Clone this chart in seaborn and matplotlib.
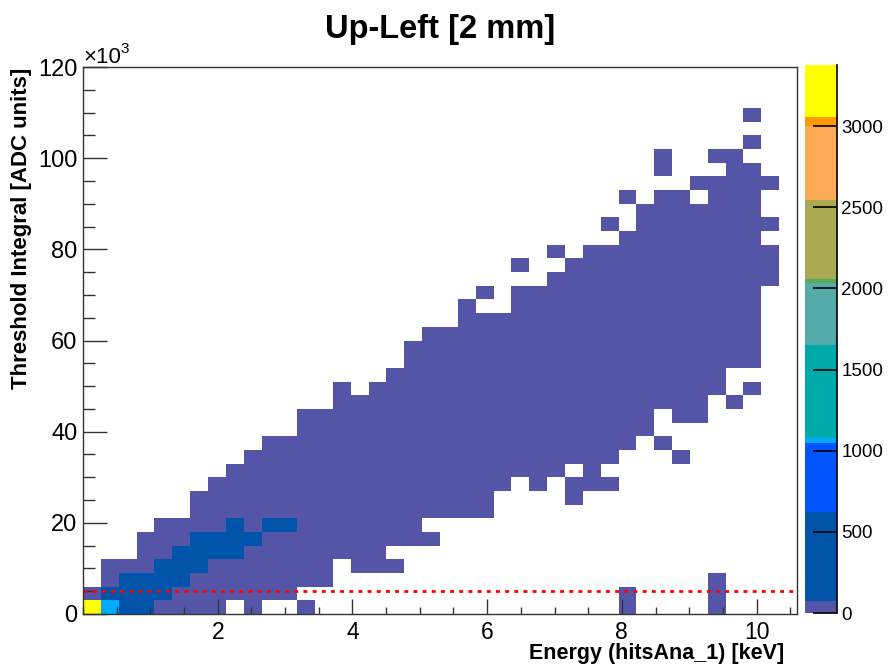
import numpy as np
import pandas as pd
import matplotlib
matplotlib.use('Agg')
import matplotlib.pyplot as plt
from matplotlib.colors import ListedColormap
from matplotlib.ticker import MultipleLocator, FuncFormatter
import seaborn as sns

plt.rcParams['font.family'] = ['Liberation Sans', 'DejaVu Sans']

# binning of the 2D histogram (40 x 40 bins)
x_edges = np.linspace(0, 10.6, 41)
y_edges = np.linspace(0, 120000, 41)

# occupied band per energy column: lowest / highest filled row (-1 = empty column)
band_lo = [0, 0, 0, 0, 0, 0, 0, 0, 1, 0, 1, 1, 2, 2, 4, 3, 3, 3, 5, 5,
           7, 7, 7, 9, 10, 9, 10, 8, 9, 9, 12, 13, 15, 14, 14, 16, 18, 18, -1, -1]
band_hi = [1, 3, 3, 5, 6, 6, 8, 9, 10, 11, 12, 12, 14, 14, 16, 15, 16, 17, 19, 20,
           20, 22, 21, 21, 23, 23, 24, 25, 26, 26, 27, 29, 30, 30, 29, 31, 33, 32, -1, -1]
# empty cells inside the band (column, row)
holes = [(17, 4), (19, 6), (27, 10), (29, 10)]
# isolated filled cells outside the band (column, row)
strays = [(12, 0), (22, 23), (24, 25), (26, 26), (29, 28), (30, 0), (30, 1), (30, 30),
          (32, 12), (32, 32), (32, 33), (33, 11), (34, 31), (35, 0), (35, 1), (35, 2),
          (35, 33), (36, 15), (37, 16), (37, 34), (37, 36),
          (38, 24), (38, 25), (38, 26), (38, 28), (38, 31)]
# denser cells along the low-energy diagonal: row -> columns
dense_rows = {0: [2, 3], 1: [1, 2, 3, 4], 2: [2, 3, 4, 5], 3: [4, 5, 6],
              4: [5, 6, 7, 8], 5: [6, 7, 8, 9], 6: [8, 10, 11]}
hot_cells = {(0, 0): 3376, (1, 0): 1060}
count_low = 30
count_dense = 300

threshold_level = 5000

# ROOT-like stepped palette
band_edges = [0, 76, 620, 1045, 1080, 1650, 2030, 2060, 2545, 3000, 3057, 3376]
band_colors = ['#5555a8', '#0055aa', '#0055ff', '#00aaff', '#00aaaa', '#55aaaa',
               '#55aa55', '#aaaa55', '#ffaa55', '#ff9900', '#ffff00']
cbar_ticks = [0, 500, 1000, 1500, 2000, 2500, 3000]

# build the cell table
cells = {}
for c in range(40):
    if band_lo[c] < 0:
        continue
    for r in range(band_lo[c], band_hi[c] + 1):
        cells[(c, r)] = count_low
for c, r in holes:
    cells.pop((c, r), None)
for c, r in strays:
    cells[(c, r)] = count_low
for r, cols in dense_rows.items():
    for c in cols:
        cells[(c, r)] = count_dense
cells.update(hot_cells)

x_mid = (x_edges[:-1] + x_edges[1:]) / 2
y_mid = (y_edges[:-1] + y_edges[1:]) / 2
df = pd.DataFrame({
    'energy': [x_mid[c] for c, r in cells],
    'integral': [y_mid[r] for c, r in cells],
    'counts': list(cells.values()),
})

levels = np.arange(band_edges[-1]) + 0.5
idx = np.searchsorted(band_edges, levels) - 1
cmap = ListedColormap([band_colors[i] for i in idx])

fig = plt.figure(figsize=(8.93, 6.66), dpi=100)
ax = fig.add_axes([83 / 893, 1 - 614 / 666, 714 / 893, 547 / 666])
cax = fig.add_axes([805 / 893, 1 - 613 / 666, 32 / 893, 548 / 666])

sns.histplot(data=df, x='energy', y='integral', weights='counts',
             bins=[x_edges, y_edges], cmap=cmap, cbar=True, cbar_ax=cax,
             cbar_kws={'ticks': cbar_ticks}, ax=ax)

ax.axhline(threshold_level, color='red', lw=2, ls=(0, (1.4, 1.9)))

ax.set_xlim(x_edges[0], x_edges[-1])
ax.set_ylim(y_edges[0], y_edges[-1])
ax.set_xlabel('')
ax.set_ylabel('')
ax.set_xticks([2, 4, 6, 8, 10])
ax.xaxis.set_minor_locator(MultipleLocator(0.5))
ax.yaxis.set_major_locator(MultipleLocator(20000))
ax.yaxis.set_minor_locator(MultipleLocator(5000))
ax.yaxis.set_major_formatter(FuncFormatter(lambda v, p: f'{v / 1000:.0f}'))
ax.tick_params(which='both', direction='in', color='#333333', width=1)
ax.tick_params(axis='x', which='major', length=10.8, labelsize=16.5, pad=5)
ax.tick_params(axis='x', which='minor', length=5.4)
ax.tick_params(axis='y', which='major', length=17.3, labelsize=17, pad=4)
ax.tick_params(axis='y', which='minor', length=8.6)
for sp in ax.spines.values():
    sp.set_color('#333333')
    sp.set_linewidth(1)

ax.annotate('×10', xy=(0, 1), xycoords='axes fraction', xytext=(0, 2.7),
            textcoords='offset points', fontsize=16, va='baseline', ha='left')
ax.annotate('3', xy=(0, 1), xycoords='axes fraction', xytext=(27, 10),
            textcoords='offset points', fontsize=11, va='baseline', ha='left')

# colorbar styling
cbar = ax.collections[0].colorbar
cbar.outline.set_visible(False)
cbar.minorticks_off()
cax.tick_params(direction='in', length=17, width=1.2, labelsize=13.5, pad=3, color='black')
cax.plot([1, 1], [0, 1], transform=cax.transAxes, color='black', lw=1.2, clip_on=False)

fig.text(440 / 893, 1 - 38 / 666, 'Up-Left [2 mm]', ha='center', va='baseline',
         fontsize=23.5, fontweight='bold')
fig.text(784 / 893, 1 - 653 / 666, 'Energy (hitsAna_1) [keV]', ha='right', va='center',
         fontsize=15.5, fontweight='bold')
fig.text(22 / 893, 1 - 68 / 666, 'Threshold Integral [ADC units]', rotation=90,
         ha='center', va='top', fontsize=16, fontweight='bold')

fig.savefig('out.png', dpi=100)
